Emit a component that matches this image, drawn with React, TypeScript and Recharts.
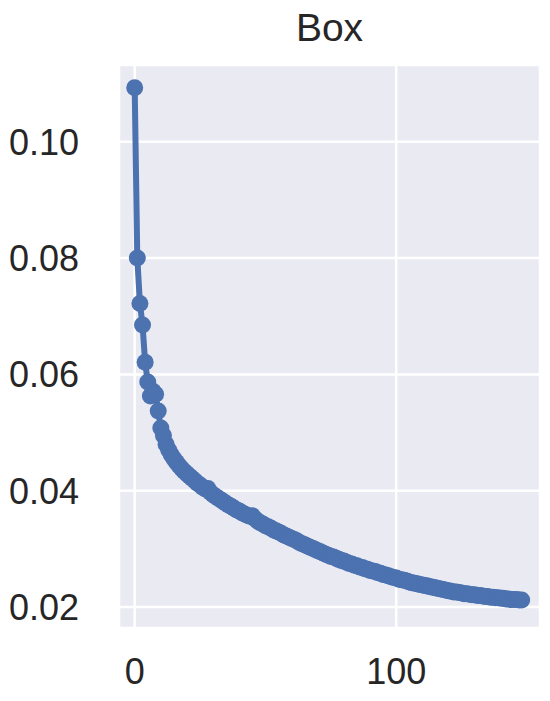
import { LineChart, Line, XAxis, YAxis, CartesianGrid } from "recharts";

const epochs: number[] = Array.from({ length: 149 }, (_, i) => i);

const lossValues: number[] = [
  0.1093, 0.08, 0.0722, 0.0685, 0.0621, 0.0587, 0.0563, 0.0571, 0.0566, 0.0537,
  0.0508, 0.0495, 0.048, 0.047, 0.0462, 0.0455, 0.0449, 0.0443, 0.0438, 0.0433,
  0.0429, 0.0425, 0.0421, 0.0417, 0.0413, 0.041, 0.0406, 0.0403, 0.0404, 0.0397,
  0.0393, 0.039, 0.0387, 0.0384, 0.0381, 0.0378, 0.0375, 0.0373, 0.037, 0.0367,
  0.0365, 0.0362, 0.036, 0.0358, 0.0356, 0.0357, 0.0352, 0.0348, 0.0345, 0.0343,
  0.034, 0.0338, 0.0336, 0.0333, 0.0331, 0.0329, 0.0327, 0.0324, 0.0322, 0.032,
  0.0318, 0.0316, 0.0314, 0.0311, 0.0309, 0.0307, 0.0305, 0.0303, 0.0301, 0.0299,
  0.0297, 0.0295, 0.0293, 0.0291, 0.0289, 0.0287, 0.0286, 0.0284, 0.0282, 0.028,
  0.0279, 0.0277, 0.0275, 0.0274, 0.0272, 0.0271, 0.0269, 0.0268, 0.0266, 0.0265,
  0.0263, 0.0262, 0.0261, 0.0259, 0.0258, 0.0256, 0.0255, 0.0254, 0.0252, 0.0251,
  0.025, 0.0248, 0.0247, 0.0246, 0.0245, 0.0243, 0.0242, 0.0241, 0.024, 0.0239,
  0.0238, 0.0237, 0.0236, 0.0235, 0.0234, 0.0233, 0.0232, 0.0231, 0.023, 0.0229,
  0.0228, 0.0227, 0.0226, 0.0226, 0.0225, 0.0224, 0.0223, 0.0223, 0.0222, 0.0221,
  0.0221, 0.022, 0.022, 0.0219, 0.0218, 0.0218, 0.0217, 0.0217, 0.0216, 0.0216,
  0.0215, 0.0215, 0.0214, 0.0214, 0.0213, 0.0213, 0.0213, 0.0212, 0.0212,
];

const xTicks = [0, 100];
const yTicks = [0.02, 0.04, 0.06, 0.08, 0.1];

const data = epochs.map((x, i) => ({ x, loss: lossValues[i] }));

const FONT = "'Liberation Sans', Arial, sans-serif";
const TEXT = "#262626";

export default function App() {
  return (
    <div style={{ position: "absolute", left: 0, top: 0, width: 550, height: 701, background: "#fff" }}>
      <div
        style={{
          position: "absolute",
          left: 119,
          width: 421,
          top: 6,
          textAlign: "center",
          fontFamily: FONT,
          fontSize: 39,
          color: TEXT,
        }}
      >
        Box
      </div>
      <LineChart
        width={550}
        height={701}
        data={data}
        margin={{ top: 65, right: 10, bottom: 0, left: 0 }}
      >
        <CartesianGrid fill="#EAEAF2" stroke="#ffffff" strokeWidth={2.5} />
        <XAxis
          dataKey="x"
          type="number"
          domain={[-6, 155]}
          ticks={xTicks}
          axisLine={false}
          tickLine={false}
          height={73}
          tickMargin={24}
          tick={{ fill: TEXT, fontSize: 36, fontFamily: FONT }}
        />
        <YAxis
          type="number"
          domain={[0.0164, 0.1132]}
          ticks={yTicks}
          width={119}
          axisLine={false}
          tickLine={false}
          tickMargin={34}
          tickFormatter={(v: number) => v.toFixed(2)}
          tick={{ fill: TEXT, fontSize: 36, fontFamily: FONT }}
        />
        <Line
          type="linear"
          dataKey="loss"
          stroke="#4C72B0"
          strokeWidth={6}
          dot={{ r: 8.5, fill: "#4C72B0", stroke: "#4C72B0", strokeWidth: 0 }}
          isAnimationActive={false}
        />
      </LineChart>
    </div>
  );
}
